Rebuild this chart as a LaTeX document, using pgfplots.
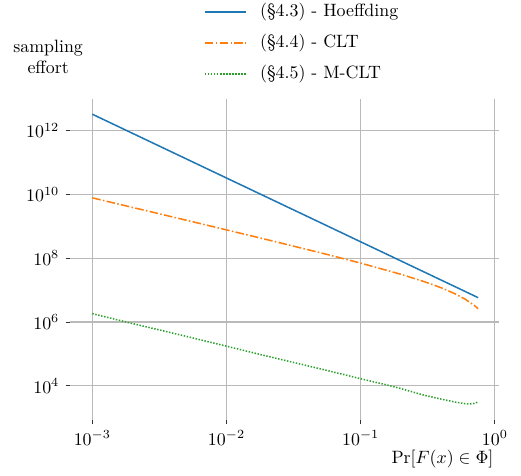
\documentclass[border=0pt]{standalone}
\usepackage{pgfplots}
\pgfplotsset{compat=1.18}
\usepackage{pgfplotstable}

\definecolor{tabblue}{HTML}{1F77B4}
\definecolor{taborange}{HTML}{FF7F0E}
\definecolor{tabgreen}{HTML}{2CA02C}

% sampling effort against Pr[F(x) in Phi]
\pgfplotstableread{
p      effort
0.001  3.25e12
0.002  8.125e11
0.005  1.3e11
0.01   3.25e10
0.02   8.125e9
0.05   1.3e9
0.1    3.25e8
0.2    8.125e7
0.5    1.3e7
0.75   5.78e6
}\hoeffding

\pgfplotstableread{
p      effort
0.001  7.76e9
0.002  3.88e9
0.005  1.55e9
0.01   7.69e8
0.02   3.81e8
0.05   1.48e8
0.1    6.99e7
0.2    3.11e7
0.3    1.81e7
0.4    1.17e7
0.5    7.77e6
0.6    5.18e6
0.7    3.33e6
0.75   2.59e6
}\clt

\pgfplotstableread{
p      effort
0.001  1.82e6
0.002  8.9e5
0.005  3.55e5
0.01   1.74e5
0.02   8.5e4
0.05   3.4e4
0.1    1.66e4
0.166  1.0e4
0.2    8.1e3
0.3    5.0e3
0.4    3.8e3
0.5    3.1e3
0.6    2.75e3
0.65   2.7e3
0.7    2.8e3
0.75   3.1e3
}\mclt

\begin{document}
\begin{tikzpicture}
  \path[use as bounding box] (-39.2pt,-31.4pt) rectangle (252.6pt,235.2pt);
  \begin{axis}[
    at={(0pt,0pt)}, anchor=south west,
    scale only axis, width=240.2pt, height=179.8pt,
    xmode=log, ymode=log,
    xmin=6.82e-4, xmax=1.07, ymin=8.5e2, ymax=9.8e12,
    xtick={1e-3,1e-2,1e-1,1},
    ytick={1e4,1e6,1e8,1e10,1e12},
    xminorticks=false, yminorticks=false,
    xtick pos=bottom, ytick pos=left,
    tick align=outside, major tick length=2.5pt,
    tick style={black!80, line width=0.5pt},
    axis line style={draw=none},
    grid=major, major grid style={gray!55, line width=0.6pt},
    xlabel={$\Pr[F(x)\in\Phi]$},
    xlabel style={at={(axis description cs:1.002,-0.122)}, anchor=east},
    ylabel={sampling\\effort},
    ylabel style={at={(axis description cs:-0.051,1.131)}, rotate=-90, anchor=center, align=center},
    legend cell align=left,
    legend image code/.code={\draw[#1] (0pt,0pt) -- (23pt,0pt);},
    legend style={draw=none, fill=none, inner sep=0pt, row sep=3.4pt, column sep=5.5pt,
      at={(axis description cs:0.312,1.174)}, anchor=west,
      nodes={inner sep=2pt, text height=7.5pt, text depth=2.5pt}},
  ]
    \addplot[tabblue, line width=0.85pt] table[x=p, y=effort] {\hoeffding};
    \addplot[taborange, line width=0.85pt, dash pattern=on 4.8pt off 1.3pt on 0.85pt off 1.3pt] table[x=p, y=effort] {\clt};
    \addplot[tabgreen, line width=0.85pt, dash pattern=on 0.8pt off 0.9pt] table[x=p, y=effort] {\mclt};
    \legend{(\S4.3) - Hoeffding, (\S4.4) - CLT, (\S4.5) - M-CLT}
  \end{axis}
\end{tikzpicture}
\end{document}
